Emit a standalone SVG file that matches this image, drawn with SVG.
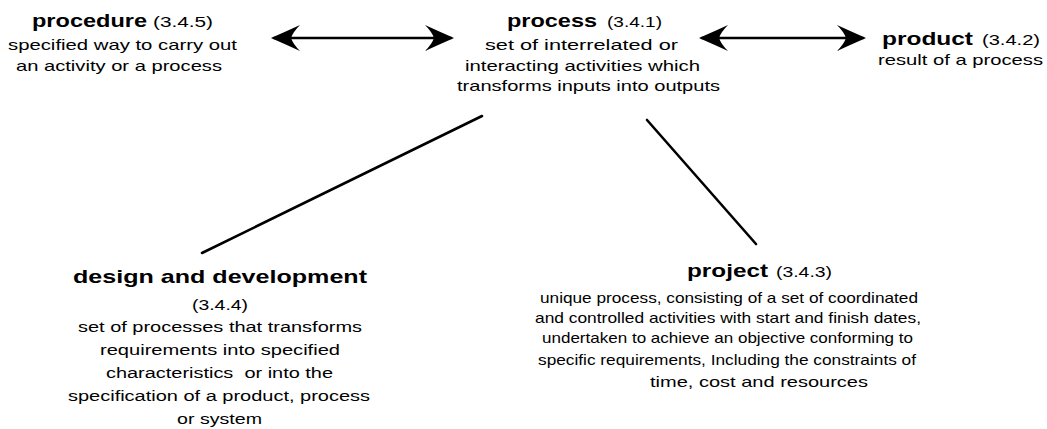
<svg xmlns="http://www.w3.org/2000/svg" width="1047" height="429" viewBox="0 0 1047 429">
<style>
  text { font-family: "Liberation Sans", "DejaVu Sans", Arial, sans-serif; fill: #000; }
  .t { font-size: 19px; font-weight: bold; }
  .n { font-size: 15px; }
  .d { font-size: 15.5px; }
  .c { stroke: #000; stroke-width: 2.6; fill: none; stroke-linecap: round; }
</style>
<defs>
  <marker id="ah" viewBox="0 0 30 26" refX="27" refY="13" markerWidth="30" markerHeight="26" markerUnits="userSpaceOnUse" orient="auto-start-reverse">
    <path d="M30,13 Q14,6 1,0 Q8,7 10,13 Q8,19 1,26 Q14,20 30,13 Z" fill="#000"/>
  </marker>
</defs>
<rect width="1047" height="429" fill="#fff"/>
<g id="connectors">
  <line class="c" x1="274" y1="38" x2="451" y2="38" marker-start="url(#ah)" marker-end="url(#ah)"/>
  <line class="c" x1="702" y1="38" x2="863" y2="38" marker-start="url(#ah)" marker-end="url(#ah)"/>
  <line class="c" x1="202" y1="253" x2="482" y2="116"/>
  <line class="c" x1="647" y1="120" x2="756" y2="244"/>
</g>
<g id="procedure">
  <text class="t" x="32" y="27" textLength="115" lengthAdjust="spacingAndGlyphs">procedure</text>
  <text class="n" x="153" y="27" textLength="60" lengthAdjust="spacingAndGlyphs">(3.4.5)</text>
  <text class="n" x="8" y="50" textLength="229" lengthAdjust="spacingAndGlyphs">specified way to carry out</text>
  <text class="n" x="16" y="71" textLength="206" lengthAdjust="spacingAndGlyphs">an activity or a process</text>
</g>
<g id="process">
  <text class="t" x="507" y="27" textLength="90" lengthAdjust="spacingAndGlyphs">process</text>
  <text class="n" x="607" y="27" textLength="55" lengthAdjust="spacingAndGlyphs">(3.4.1)</text>
  <text class="n" x="485" y="50" textLength="193" lengthAdjust="spacingAndGlyphs">set of interrelated or</text>
  <text class="n" x="465" y="71" textLength="235" lengthAdjust="spacingAndGlyphs">interacting activities which</text>
  <text class="n" x="457" y="91" textLength="263" lengthAdjust="spacingAndGlyphs">transforms inputs into outputs</text>
</g>
<g id="product">
  <text class="t" x="882" y="45" textLength="91" lengthAdjust="spacingAndGlyphs">product</text>
  <text class="n" x="982" y="45" textLength="58" lengthAdjust="spacingAndGlyphs">(3.4.2)</text>
  <text class="n" x="878" y="65" textLength="165" lengthAdjust="spacingAndGlyphs">result of a process</text>
</g>
<g id="design-and-development">
  <text class="t" x="73" y="283" textLength="294" lengthAdjust="spacingAndGlyphs">design and development</text>
  <text class="d" x="192" y="310" textLength="56" lengthAdjust="spacingAndGlyphs">(3.4.4)</text>
  <text class="d" x="78" y="332" textLength="284" lengthAdjust="spacingAndGlyphs">set of processes that transforms</text>
  <text class="d" x="100" y="355" textLength="240" lengthAdjust="spacingAndGlyphs">requirements into specified</text>
  <text class="d" x="106" y="378" textLength="227" lengthAdjust="spacingAndGlyphs" xml:space="preserve">characteristics  or into the</text>
  <text class="d" x="68" y="401" textLength="302" lengthAdjust="spacingAndGlyphs">specification of a product, process</text>
  <text class="d" x="177" y="424" textLength="85" lengthAdjust="spacingAndGlyphs">or system</text>
</g>
<g id="project">
  <text class="t" x="687" y="277" textLength="81" lengthAdjust="spacingAndGlyphs">project</text>
  <text class="n" x="776" y="277" textLength="56" lengthAdjust="spacingAndGlyphs">(3.4.3)</text>
  <text class="n" x="540" y="303" textLength="378" lengthAdjust="spacingAndGlyphs">unique process, consisting of a set of coordinated</text>
  <text class="n" x="535" y="323" textLength="386" lengthAdjust="spacingAndGlyphs">and controlled activities with start and finish dates,</text>
  <text class="n" x="542" y="343" textLength="371" lengthAdjust="spacingAndGlyphs">undertaken to achieve an objective conforming to</text>
  <text class="n" x="538" y="365" textLength="378" lengthAdjust="spacingAndGlyphs">specific requirements, Including the constraints of</text>
  <text class="n" x="650" y="387" textLength="218" lengthAdjust="spacingAndGlyphs">time, cost and resources</text>
</g>
</svg>
